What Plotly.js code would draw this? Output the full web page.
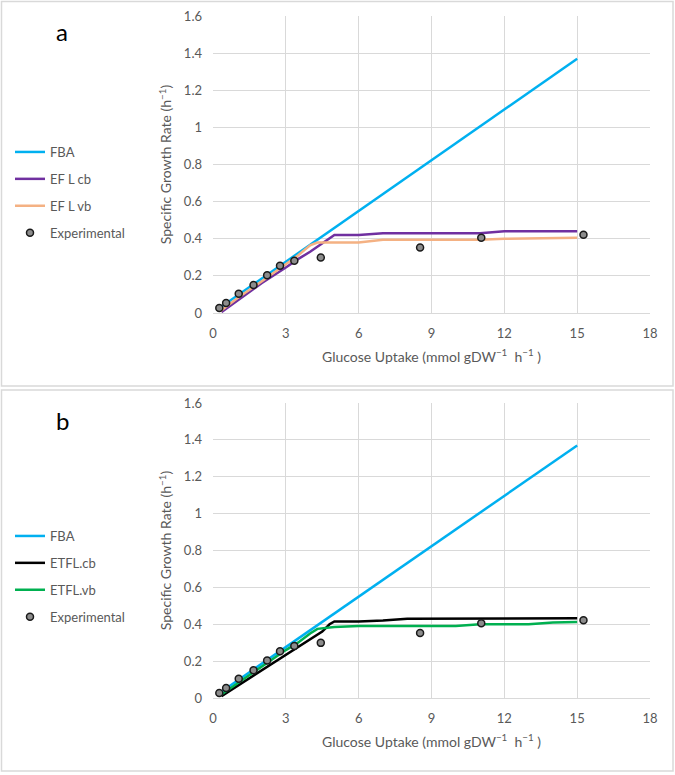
<!DOCTYPE html>
<html>
<head>
<meta charset="utf-8">
<script src="https://cdn.plot.ly/plotly-3.0.1.min.js"></script>
<style>html,body{margin:0;padding:0;background:#fff;}#chart{width:675px;height:775px;}</style>
</head>
<body>
<div id="chart"></div>
<script>
// ---- data ----
const xTicks = [0, 3, 6, 9, 12, 15, 18];
const xTickText = ['0', '3', '6', '9', '12', '15', '18'];
const yTicks = [0, 0.2, 0.4, 0.6, 0.8, 1.0, 1.2, 1.4, 1.6];
const yTickText = ['0', '0.2', '0.4', '0.6', '0.8', '1', '1.2', '1.4', '1.6'];

// experimental
const expX = [0.26, 0.54, 1.06, 1.67, 2.23, 2.76, 3.35, 4.44, 8.53, 11.05, 15.26];
const expY = [0.027, 0.054, 0.104, 0.151, 0.203, 0.254, 0.282, 0.299, 0.353, 0.405, 0.422];

// FBA (both panels)
const fbaX = [0.3, 15.0];
const fbaY = [0.03, 1.37];

// panel a
const eflCbX = [0.35, 1.0, 2.0, 3.0, 3.5, 4.0, 4.5, 5.0, 6.0, 7.0, 9.0, 11.0, 12.0, 15.0];
const eflCbY = [0.005, 0.065, 0.16, 0.245, 0.29, 0.33, 0.375, 0.42, 0.42, 0.43, 0.43, 0.43, 0.44, 0.44];
const eflVbX = [0.3, 1.0, 2.0, 3.0, 3.5, 4.0, 4.3, 5.0, 6.0, 7.0, 11.0, 12.0, 14.0, 15.0];
const eflVbY = [0.01, 0.08, 0.17, 0.265, 0.31, 0.365, 0.38, 0.38, 0.38, 0.395, 0.395, 0.40, 0.405, 0.405];

// panel b
const etflCbX = [0.35, 1.0, 2.0, 3.0, 3.5, 4.0, 4.5, 4.8, 5.0, 6.0, 7.0, 8.0, 15.0];
const etflCbY = [0.01, 0.065, 0.15, 0.235, 0.28, 0.32, 0.36, 0.40, 0.415, 0.415, 0.42, 0.43, 0.432];
const etflVbX = [0.3, 1.0, 2.0, 3.0, 3.5, 4.0, 4.3, 5.0, 6.0, 9.0, 10.0, 11.0, 13.0, 14.0, 15.0];
const etflVbY = [0.015, 0.08, 0.17, 0.26, 0.30, 0.35, 0.375, 0.385, 0.39, 0.39, 0.39, 0.40, 0.40, 0.41, 0.412];

// ---- styling ----
const FONT = 'Lato, "Open Sans", sans-serif';
const GREY = '#595959';
const GRID = '#d9d9d9';
const LW = 2.5;
const markerStyle = {size: 7, color: '#8c8c8c', line: {color: '#1a1a1a', width: 1.5}};

function line(x, y, name, color, xa, ya, leg, grp) {
  return {x: x, y: y, type: 'scatter', mode: 'lines', name: name,
    line: {color: color, width: LW}, xaxis: xa, yaxis: ya, legend: leg, legendgroup: grp};
}
const traces = [
  line(fbaX, fbaY, 'FBA', '#00b0f0', 'x', 'y', 'legend', 'a1'),
  line(eflCbX, eflCbY, 'EF L cb', '#7030a0', 'x', 'y', 'legend', 'a2'),
  line(eflVbX, eflVbY, 'EF L vb', '#f4b183', 'x', 'y', 'legend', 'a3'),
  {x: expX, y: expY, type: 'scatter', mode: 'markers', name: 'Experimental', marker: markerStyle,
    xaxis: 'x', yaxis: 'y', legend: 'legend', legendgroup: 'a4'},
  line(fbaX, fbaY, 'FBA', '#00b0f0', 'x2', 'y2', 'legend2', 'b1'),
  line(etflCbX, etflCbY, 'ETFL.cb', '#000000', 'x2', 'y2', 'legend2', 'b2'),
  line(etflVbX, etflVbY, 'ETFL.vb', '#00b050', 'x2', 'y2', 'legend2', 'b3'),
  {x: expX, y: expY, type: 'scatter', mode: 'markers', name: 'Experimental', marker: markerStyle,
    xaxis: 'x2', yaxis: 'y2', legend: 'legend2', legendgroup: 'b4'}
];

const W = 675, H = 775;
const px = v => v / W;
const py = v => 1 - v / H;

function xAxis(anchor) {
  return {
    domain: [px(213), px(650)], anchor: anchor, range: [0, 18],
    tickmode: 'array', tickvals: xTicks, ticktext: xTickText,
    showgrid: true, gridcolor: GRID, gridwidth: 1, zeroline: false,
    showline: true, linecolor: GRID, linewidth: 1, ticks: '', ticklabelstandoff: 8,
    tickfont: {family: FONT, size: 13, color: GREY},
    title: {text: 'Glucose Uptake (mmol gDW<sup>\u22121</sup>\u00a0 h<sup>\u22121</sup> )',
      font: {family: FONT, size: 14, color: GREY}, standoff: 12},
    fixedrange: true
  };
}
function yAxis(anchor, top, bottom) {
  return {
    domain: [py(bottom), py(top)], anchor: anchor, range: [0, 1.6],
    tickmode: 'array', tickvals: yTicks, ticktext: yTickText,
    showgrid: true, gridcolor: GRID, gridwidth: 1, zeroline: false,
    showline: false, ticks: '', ticklabelstandoff: 10,
    tickfont: {family: FONT, size: 13, color: GREY},
    title: {text: 'Specific Growth Rate (h<sup>\u22121</sup>)',
      font: {family: FONT, size: 14, color: GREY}, standoff: 8},
    fixedrange: true
  };
}

const legendBase = {
  xanchor: 'left', yanchor: 'top', bgcolor: 'rgba(0,0,0,0)', borderwidth: 0,
  font: {family: FONT, size: 13, color: GREY}, traceorder: 'grouped', tracegroupgap: 7
};

const layout = {
  width: W, height: H, margin: {l: 0, r: 0, t: 0, b: 0},
  paper_bgcolor: '#ffffff', plot_bgcolor: '#ffffff',
  xaxis: xAxis('y'), yaxis: yAxis('x', 16, 313),
  xaxis2: xAxis('y2'), yaxis2: yAxis('x2', 403, 698),
  showlegend: true,
  legend: Object.assign({x: px(10), y: py(137)}, legendBase),
  legend2: Object.assign({x: px(10), y: py(521)}, legendBase),
  shapes: [
    {type: 'rect', xref: 'paper', yref: 'paper', x0: px(1.5), x1: px(673), y0: py(386), y1: py(1.5),
      line: {color: GRID, width: 1.5}},
    {type: 'rect', xref: 'paper', yref: 'paper', x0: px(1.5), x1: px(673), y0: py(771), y1: py(390),
      line: {color: GRID, width: 1.5}}
  ],
  annotations: [
    {text: 'a', xref: 'paper', yref: 'paper', x: px(62), y: py(31), showarrow: false,
      font: {family: FONT, size: 24, color: '#000000'}, xanchor: 'center', yanchor: 'middle'},
    {text: 'b', xref: 'paper', yref: 'paper', x: px(62), y: py(420), showarrow: false,
      font: {family: FONT, size: 24, color: '#000000'}, xanchor: 'center', yanchor: 'middle'}
  ]
};

Plotly.newPlot('chart', traces, layout, {displayModeBar: false, staticPlot: true});
</script>
</body>
</html>
